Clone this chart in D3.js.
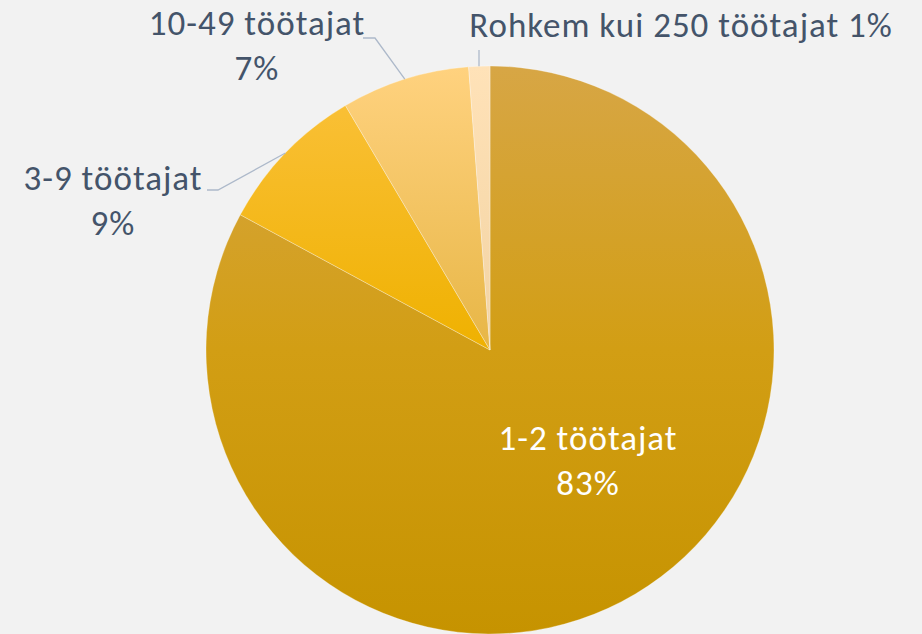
<!DOCTYPE html>
<html>
<head>
<meta charset="utf-8">
<script src="https://cdn.jsdelivr.net/npm/d3@7"></script>
<style>
  html, body { margin: 0; padding: 0; background: #f2f2f2; }
  svg { display: block; }
  text { font-family: Carlito, Lato, "Open Sans", sans-serif; }
</style>
</head>
<body>
<script>
// Data
let categories = ["1-2 töötajat", "3-9 töötajat", "10-49 töötajat", "Rohkem kui 250 töötajat"];
let values = [82.9, 8.6, 7.3, 1.2];

// Slice gradients (top, middle, bottom)
let gradients = [
    ["#d7a645", "#d29e14", "#c69300"],
    ["#fbc23e", "#efb100", "#e6a800"],
    ["#ffd27f", "#e7b646", "#d9a52a"],
    ["#ffe2b8", "#f2d3a2", "#e8c68e"]
];

let width = 922, height = 634;
let cx = 490, cy = 350, r = 284;

let svg = d3.select("body")
    .append("svg")
    .attr("width", width)
    .attr("height", height);

svg.append("rect")
    .attr("width", width)
    .attr("height", height)
    .attr("fill", "#f2f2f2");

let defs = svg.append("defs");
gradients.forEach((g, i) => {
    let lg = defs.append("linearGradient")
        .attr("id", "grad" + i)
        .attr("gradientUnits", "userSpaceOnUse")
        .attr("x1", 0).attr("y1", -r)
        .attr("x2", 0).attr("y2", r);
    lg.selectAll("stop")
        .data(g)
        .enter()
        .append("stop")
        .attr("offset", (d, j) => j / (g.length - 1))
        .attr("stop-color", d => d);
});

let total = d3.sum(values);
let pct = d3.format(".0%");

let pie = d3.pie().sort(null).value(d => d)(values);
let arc = d3.arc().innerRadius(0).outerRadius(r);

let chart = svg.append("g")
    .attr("transform", `translate(${cx}, ${cy})`);

chart.selectAll(".slice")
    .data(pie)
    .enter()
    .append("path")
    .attr("class", "slice")
    .attr("d", arc)
    .attr("fill", (d, i) => `url(#grad${i})`)
    .attr("stroke", "#ffffff")
    .attr("stroke-opacity", 0.5)
    .attr("stroke-width", 0.6);

// Leader lines (point on slice edge -> label)
let leaders = [
    null,
    { elbow: [218, 190], end: [207, 190] },
    { elbow: [375, 38], end: [363, 38] },
    { elbow: null, end: [479, 50] }
];

leaders.forEach((l, i) => {
    if (!l) return;
    let p = pie[i];
    let mid = (p.startAngle + p.endAngle) / 2;
    let start = [cx + Math.sin(mid) * r, cy - Math.cos(mid) * r];
    let pts = [start];
    if (l.elbow) pts.push(l.elbow);
    pts.push(l.end);
    if (!l.elbow) pts[0] = [l.end[0], start[1]];
    svg.append("path")
        .attr("d", d3.line()(pts))
        .attr("fill", "none")
        .attr("stroke", "#adb9ca")
        .attr("stroke-width", 1.3);
});

// Labels
let labelPos = [
    { x: 588, y: 450, lines: 2, color: "#ffffff" },
    { x: 113, y: 190, lines: 2, color: "#44546a" },
    { x: 257, y: 35, lines: 2, color: "#44546a" },
    { x: 681, y: 37, lines: 1, color: "#44546a" }
];

labelPos.forEach((lp, i) => {
    let t = svg.append("text")
        .attr("x", lp.x)
        .attr("y", lp.y)
        .attr("text-anchor", "middle")
        .attr("fill", lp.color)
        .style("font-size", "35px")
        .style("letter-spacing", "1px");
    let share = pct(values[i] / total);
    if (lp.lines == 2) {
        t.append("tspan").attr("x", lp.x).text(categories[i]);
        t.append("tspan").attr("x", lp.x).attr("dy", 45).text(share);
    } else {
        t.text(categories[i] + " " + share);
    }
});
</script>
</body>
</html>
